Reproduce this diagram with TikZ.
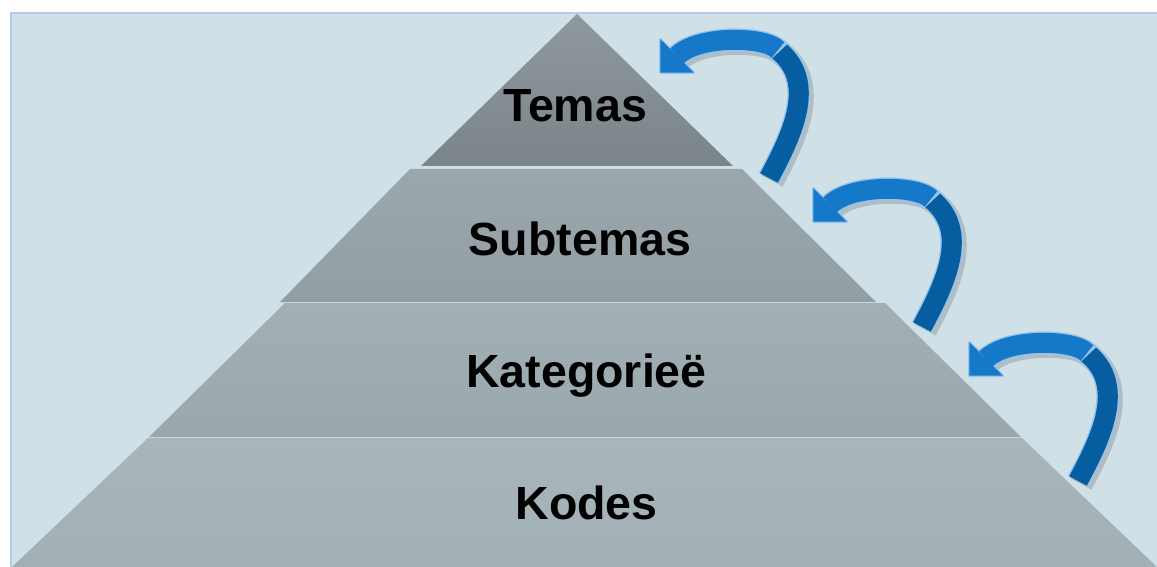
\documentclass[tikz,border=0pt]{standalone}
\usepackage{fontspec}
\setmainfont{Liberation Sans}

\definecolor{paneblue}{RGB}{207,224,231}
\definecolor{paneedge}{RGB}{182,202,232}
\definecolor{curldark}{RGB}{6,94,160}
\definecolor{curllight}{RGB}{22,120,200}
\definecolor{curlrim}{RGB}{150,196,236}

\begin{document}
\begin{tikzpicture}[x=0.5pt,y=-0.5pt,
        tiertext/.style={font=\fontsize{23.25}{28}\selectfont\bfseries,anchor=base,inner sep=0pt},
        curl/.pic={
            \draw [black,opacity=0.15,line width=12pt] ( 3,3 ) .. controls ( 26,-40 ) and ( 52,-93 ) .. ( 12,-125 )
                    .. controls ( -1,-139 ) and ( -68,-140 ) .. ( -89,-119 );
            \draw [curlrim,line width=11.4pt] ( 0,0 ) .. controls ( 23,-43 ) and ( 49,-96 ) .. ( 9,-128 );
            \draw [curldark,line width=10pt] ( 0,0 ) .. controls ( 23,-43 ) and ( 49,-96 ) .. ( 9,-128 );
            \draw [curlrim,line width=11.4pt] ( 10.4,-126.5 ) -- ( 9,-128 ) .. controls ( -4,-142 ) and ( -71,-143 ) .. ( -92,-122 );
            \filldraw [curlrim,line width=1.4pt,line join=round] ( -108.6,-105.4 ) -- ( -108.6,-138.6 ) -- ( -75.4,-105.4 ) -- cycle;
            \draw [curllight,line width=10pt] ( 9,-128 ) .. controls ( -4,-142 ) and ( -71,-143 ) .. ( -92,-122 );
            \fill [curllight] ( -108.6,-105.4 ) -- ( -108.6,-138.6 ) -- ( -75.4,-105.4 ) -- cycle;
        }]
    \useasboundingbox ( 0,0 ) rectangle ( 1157,567 );
    \fill [white] ( 0,0 ) rectangle ( 1157,567 );
    \fill [paneblue] ( 11,13 ) rectangle ( 1157,567 );
    \draw [paneedge,line width=1pt] ( 11,567 ) -- ( 11,13 ) -- ( 1157,13 );
    % pyramid, top to bottom
    \shade [top color={rgb,255:red,142;green,152;blue,157},bottom color={rgb,255:red,122;green,132;blue,137}]
            ( 577,14 ) -- ( 733,166 ) -- ( 421,166 ) -- cycle;
    \shade [top color={rgb,255:red,155;green,167;blue,172},bottom color={rgb,255:red,146;green,158;blue,163}]
            ( 410,169 ) -- ( 742,169 ) -- ( 876,302 ) -- ( 280,302 ) -- cycle;
    \shade [top color={rgb,255:red,162;green,175;blue,180},bottom color={rgb,255:red,154;green,167;blue,172}]
            ( 285,303 ) -- ( 885,303 ) -- ( 1021,437 ) -- ( 149,437 ) -- cycle;
    \shade [top color={rgb,255:red,168;green,181;blue,186},bottom color={rgb,255:red,162;green,175;blue,180}]
            ( 148,438 ) -- ( 1022,438 ) -- ( 1157,567 ) -- ( 12,567 ) -- cycle;
    \node [tiertext] (temas) at ( 575,122 ) {Temas};
    \node [tiertext] (subtemas) at ( 580,255 ) {Subtemas};
    \node [tiertext] (kategorie) at ( 586.5,387 ) {Kategorieë};
    \node [tiertext] (kodes) at ( 586.5,519 ) {Kodes};
    % curled arrows on the right flank
    \pic (upone) at ( 769,178 ) {curl};
    \pic (uptwo) at ( 922,327 ) {curl};
    \pic (upthree) at ( 1078,481 ) {curl};
\end{tikzpicture}
\end{document}
